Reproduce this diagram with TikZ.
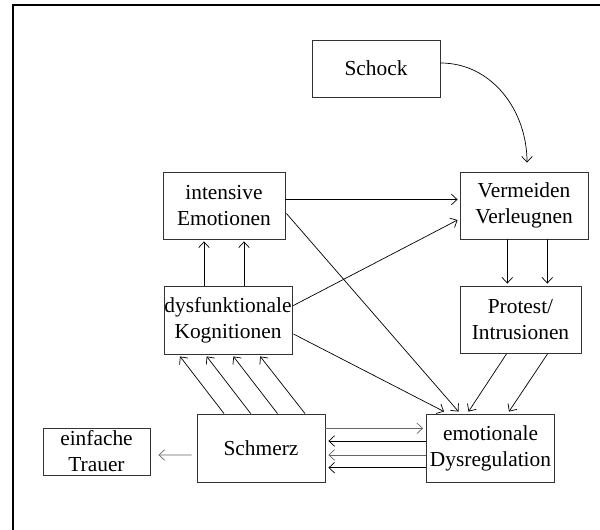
\documentclass[tikz,border=0pt]{standalone}
\usepackage{fontspec}
\setmainfont{Liberation Serif}
\usetikzlibrary{calc,arrows.meta}

\tikzset{
	box/.style={draw=black!80,line width=0.6pt,inner sep=0pt,align=center,
		font=\fontsize{15.2}{18.5}\selectfont},
	arr/.style={-{Straight Barb[length=4pt,width=7.5pt]},line width=0.5pt},
	grayarr/.style={arr,draw=black!60},
}

\begin{document}
\begin{tikzpicture}[x=0.025cm,y=-0.025cm]
		\useasboundingbox (0,0) rectangle (600,530);
		\draw[line width=1.4pt] (13,530) -- (13,5) -- (600,5);
		%
		\node[box,minimum width=3.2cm,minimum height=1.425cm] (schock) at (376,68.5) {Schock};
		\node[box,minimum width=3.05cm,minimum height=1.675cm] (intens) at (224,205.5) {intensive\\Emotionen};
		\node[box,minimum width=3.2cm,minimum height=1.675cm] (vermeid) at (524,205.5) {Vermeiden\\Verleugnen};
		\node[box,minimum width=3.2cm,minimum height=1.7cm] (dysfunk) at (228,320) {dysfunktionale\\Kognitionen};
		\node[box,minimum width=3.025cm,minimum height=1.675cm] (protest) at (520.5,320) {Protest/\\Intrusionen};
		\node[box,minimum width=3.2cm,minimum height=1.7cm] (schmerz) at (261,448) {Schmerz};
		\node[box,minimum width=3.2cm,minimum height=1.7cm] (emodys) at (490.5,448) {emotionale\\Dysregulation};
		\node[box,minimum width=2.675cm,minimum height=1.175cm] (trauer) at (96.5,451.5) {einfache\\Trauer};
		%
		\draw[arr] ($(schock.east)+(0,-5.5)$) to[out=0,in=90] ($(vermeid.north)+(3,-9)$);
		\draw[arr] ($(intens.east)+(0,-6)$) -- ($(vermeid.west)+(-2,-6)$);
		\draw[arr] ($(intens.east)+(1,8)$) -- ($(emodys.north)+(-32,-2)$);
		\draw[arr] ($(dysfunk.east)+(0,-14)$) -- ($(vermeid.west)+(-2,14.5)$);
		\draw[arr] ($(dysfunk.east)+(1,14)$) -- ($(emodys.north)+(-46.5,-2)$);
		\draw[arr] ($(dysfunk.north)+(-24,0)$) -- ($(intens.south)+(-20,2)$);
		\draw[arr] ($(dysfunk.north)+(16,0)$) -- ($(intens.south)+(20,2)$);
		\draw[arr] ($(vermeid.south)+(-16.7,0)$) -- ($(protest.north)+(-13.2,-2.5)$);
		\draw[arr] ($(vermeid.south)+(23.3,0)$) -- ($(protest.north)+(26.8,-2.5)$);
		\draw[arr] ($(protest.south)+(-14,0)$) -- ($(emodys.north)+(-22,-2)$);
		\draw[arr] ($(protest.south)+(27,0)$) -- ($(emodys.north)+(18.5,-2)$);
		% Schmerz nach oben
		\foreach \a/\b in {-37/-48,-10.3/-21.3,16.5/5.4,44/32.2}
			\draw[arr] ($(schmerz.north)+(\a,0)$) -- ($(dysfunk.south)+(\b,2)$);
		% Schmerz <-> Dysregulation
		\draw[grayarr] ($(schmerz.east)+(0,-19.7)$) -- ($(emodys.west)+(-3,-19.7)$);
		\draw[arr] ($(emodys.west)+(0,-7)$) -- ($(schmerz.east)+(3,-7)$);
		\draw[grayarr] ($(emodys.west)+(0,7)$) -- ($(schmerz.east)+(3,7)$);
		\draw[arr] ($(emodys.west)+(0,19.7)$) -- ($(schmerz.east)+(3,19.7)$);
		\draw[grayarr] ($(schmerz.west)+(-5,7)$) -- ($(trauer.east)+(8,3.5)$);
	\end{tikzpicture}
\end{document}
